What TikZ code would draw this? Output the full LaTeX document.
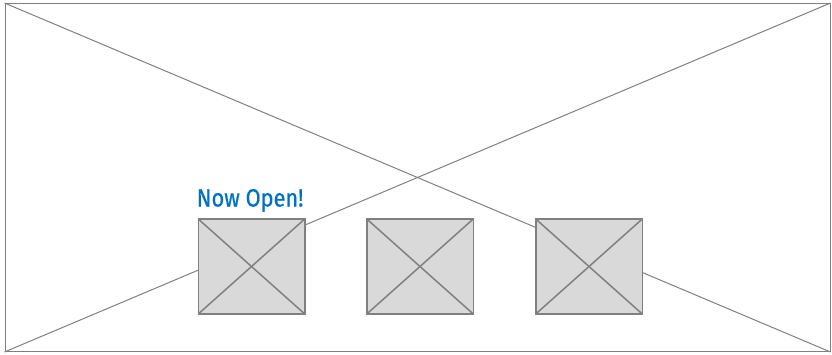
\documentclass[tikz,border=0pt]{standalone}
\usepackage{fontspec}
\setmainfont{PT Sans}
\newfontfamily\titlefont{Fira Sans}[FakeStretch=0.87,FakeBold=0.6]
\definecolor{framegray}{HTML}{808080}
\definecolor{boxfill}{HTML}{D9D9D9}
\definecolor{titleblue}{HTML}{0070C0}
\begin{document}
\begin{tikzpicture}[x=1pt,y=1pt,
  frame/.style={draw=framegray,line width=1pt},
  imgbox/.style={draw=framegray,fill=boxfill,line width=1.5pt,minimum width=106.5pt,minimum height=95pt,inner sep=0pt,
    path picture={\draw[framegray,line width=1.5pt] (path picture bounding box.south west) -- (path picture bounding box.north east) (path picture bounding box.north west) -- (path picture bounding box.south east);}},
  title/.style={text=titleblue,font=\titlefont\fontsize{25}{30}\selectfont,inner sep=0pt,anchor=base west}]
\useasboundingbox (0,0) rectangle (832,354);
\node[frame,minimum width=825pt,minimum height=348pt,inner sep=0pt,anchor=south west] (outer) at (4.5,2) {};
\draw[frame] (outer.north west) -- (outer.south east);
\draw[frame] (outer.south west) -- (outer.north east);
\node[imgbox] (b1) at (251.5,87.5) {};
\node[imgbox] (b2) at (420,87.5) {};
\node[imgbox] (b3) at (589,87.5) {};
\node[title] (t) at (196.5,147.5) {Now Open!};
\end{tikzpicture}
\end{document}
